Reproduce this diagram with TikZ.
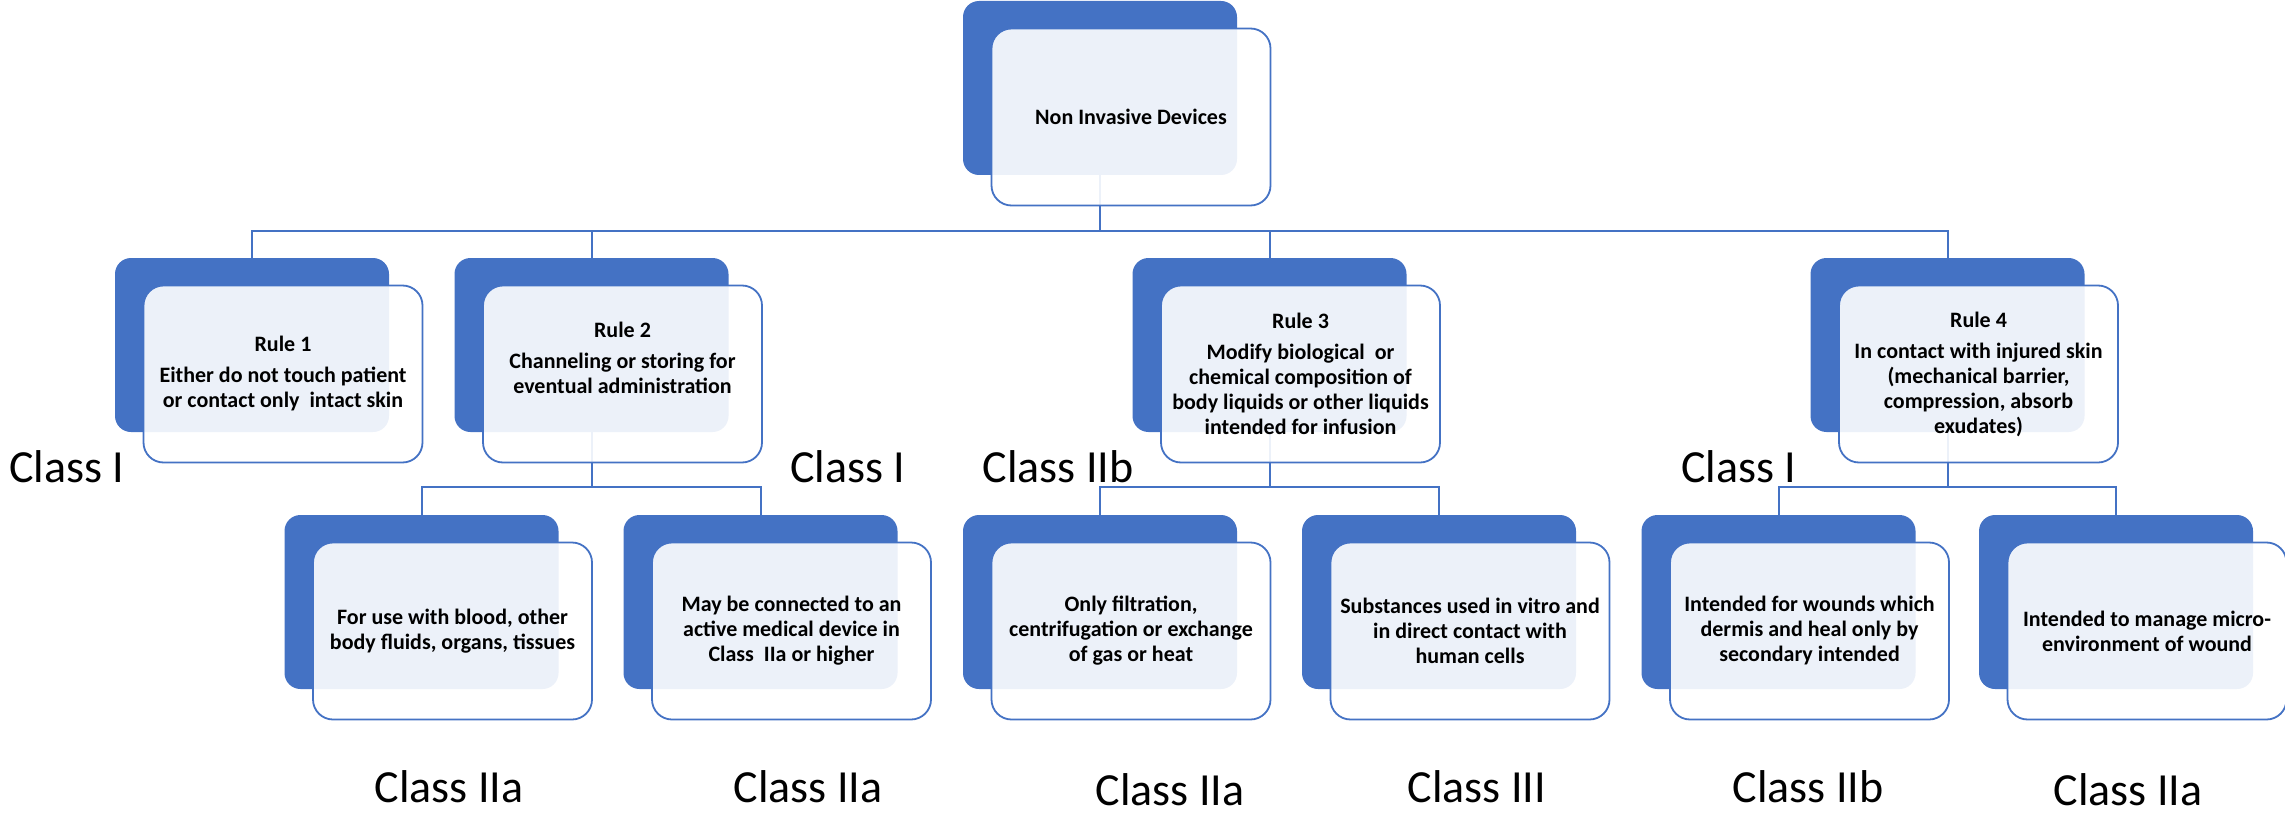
\documentclass[tikz,border=0pt]{standalone}
\usepackage{fontspec}
\setmainfont{Carlito}
\usetikzlibrary{positioning,calc}
\definecolor{officeblue}{HTML}{4472C4}

\begin{document}
\begin{tikzpicture}[x=1pt, y=-1pt,
  back/.style={fill=officeblue, rounded corners=16pt, minimum width=274pt, minimum height=174pt, inner sep=0pt},
  front/.style={draw=officeblue, line width=1.8pt, fill=white, fill opacity=0.9, text opacity=1, rounded corners=20pt, minimum width=279pt, minimum height=177pt, align=center, inner sep=4pt, font=\fontsize{22}{25}\selectfont\bfseries},
  link/.style={draw=officeblue, line width=2pt},
  cls/.style={anchor=base, font=\fontsize{46}{55}\selectfont}
]
\useasboundingbox (0,0) rectangle (2285,813);

% back panels
\node[back] (root) at (1100,88) {};
\node[back] (r1) at (252,345) {};
\node[back] (r2) at (591.5,345) {};
\node[back] (r3) at (1269.5,345) {};
\node[back] (r4) at (1947.5,345) {};

\node[back] (a1) at (421.5,602) {};
\node[back] (a2) at (760.5,602) {};
\node[back] (b1) at (1100,602) {};
\node[back] (b2) at (1439,602) {};
\node[back] (c1) at (1778.5,602) {};
\node[back] (c2) at (2116,602) {};

% tree lines
\draw[link] (root.south) -- ++(0,56) -| (r1.north);
\draw[link] (root.south) -- ++(0,56) -| (r2.north);
\draw[link] (root.south) -- ++(0,56) -| (r3.north);
\draw[link] (root.south) -- ++(0,56) -| (r4.north);

\draw[link] (r2.south) -- ++(0,55) -| (a1.north);
\draw[link] (r2.south) -- ++(0,55) -| (a2.north);
\draw[link] (r3.south) -- ++(0,55) -| (b1.north);
\draw[link] (r3.south) -- ++(0,55) -| (b2.north);
\draw[link] (r4.south) -- ++(0,55) -| (c1.north);
\draw[link] (r4.south) -- ++(0,55) -| (c2.north);

% front panels
\node[front] (rootf) at ($(root)+(31,29)$) {Non Invasive Devices};
\node[front] (r1f) at ($(r1)+(31,29)$) {Rule 1\\[6pt]Either do not touch patient\\or contact only~ intact skin};
\node[front] (r2f) at ($(r2)+(31,29)$) {Rule 2\\[6pt]Channeling or storing for\\eventual administration\\[8pt]~};
\node[front] (r3f) at ($(r3)+(31,29)$) {Rule 3\\[6pt]Modify biological~ or\\chemical composition of\\body liquids or other liquids\\intended for infusion};
\node[front] (r4f) at ($(r4)+(31,29)$) {Rule 4\\[6pt]In contact with injured skin\\(mechanical barrier,\\compression, absorb\\exudates)};

\node[front] (a1f) at ($(a1)+(31,29)$) {For use with blood, other\\body fluids, organs, tissues};
\node[front] (a2f) at ($(a2)+(31,29)$) {May be connected to an\\active medical device in\\Class~ IIa or higher};
\node[front] (b1f) at ($(b1)+(31,29)$) {Only filtration,\\centrifugation or exchange\\of gas or heat};
\node[front] (b2f) at ($(b2)+(31,29)$) {Substances used in vitro and\\in direct contact with\\human cells};
\node[front] (c1f) at ($(c1)+(31,29)$) {Intended for wounds which\\dermis and heal only by\\secondary intended};
\node[front] (c2f) at ($(c2)+(31,29)$) {Intended to manage micro-\\environment of wound};

% class labels
\node[cls] (k1) at (67,482) {Class I};
\node[cls] (k2) at (848,482) {Class I};
\node[cls] (k3) at (1058,482) {Class IIb};
\node[cls] (k4) at (1739,482) {Class I};

\node[cls] (ka1) at (449,802) {Class IIa};
\node[cls] (ka2) at (808,802) {Class IIa};
\node[cls] (kb1) at (1170,805) {Class IIa};
\node[cls] (kb2) at (1477,802) {Class III};
\node[cls] (kc1) at (1808,802) {Class IIb};
\node[cls] (kc2) at (2128,805) {Class IIa};

\end{tikzpicture}
\end{document}
